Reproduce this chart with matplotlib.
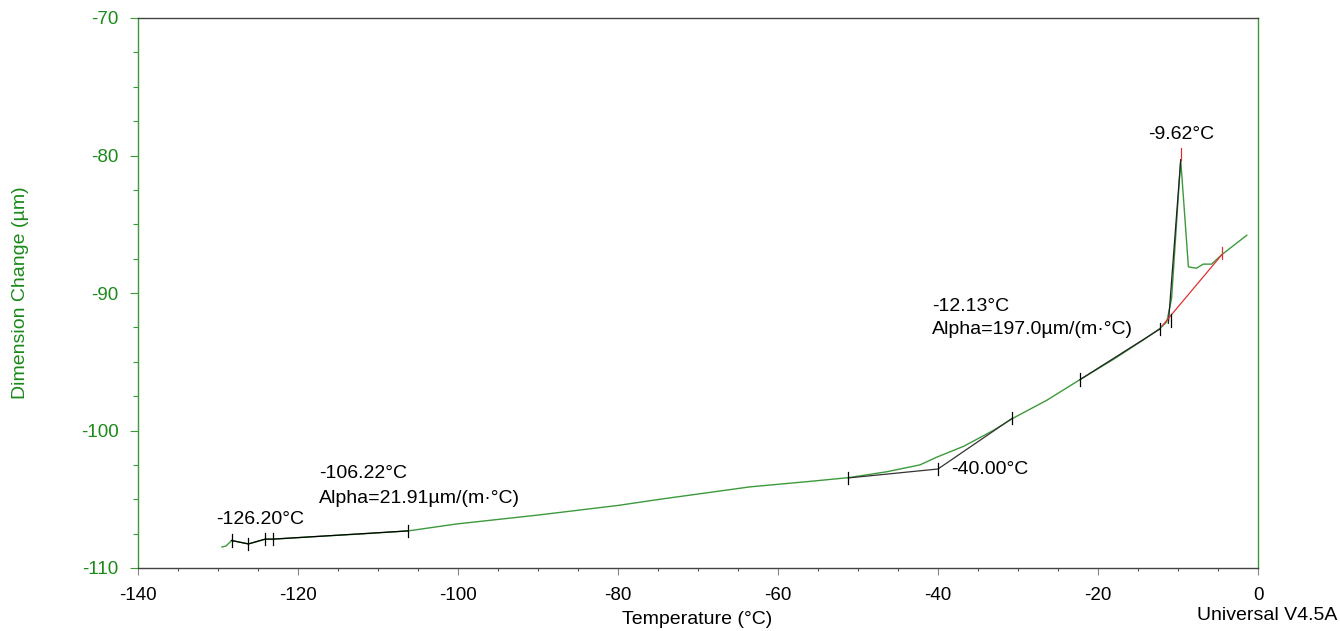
import matplotlib
matplotlib.use("Agg")
import matplotlib.pyplot as plt
from matplotlib.ticker import MultipleLocator

plt.rcParams['font.family'] = ['Liberation Sans', 'DejaVu Sans']
plt.rcParams['axes.unicode_minus'] = False

# Main measured curve (temperature, dimension change)
temp = [-129.5, -129.0, -128.3, -126.2, -124.1, -123.1, -118.0, -112.0, -106.2,
        -100.2, -90.0, -80.0, -74.75, -63.5, -56.0, -51.2, -46.4, -42.25, -40.2,
        -36.8, -33.1, -30.6, -26.4, -22.25, -18.0, -14.3, -12.25, -11.4, -10.8,
        -9.66, -8.7, -7.7, -6.85, -5.8, -4.5, -1.4]
dim = [-108.47, -108.4, -108.0, -108.25, -107.9, -107.9, -107.72, -107.52, -107.3,
       -106.8, -106.15, -105.45, -105.0, -104.1, -103.7, -103.43, -103.0, -102.5, -101.95,
       -101.15, -100.0, -99.1, -97.8, -96.3, -94.8, -93.4, -92.57, -92.1, -90.4,
       -80.33, -88.1, -88.2, -87.9, -87.9, -87.2, -85.8]

# Black analysis lines
low_x = [-128.3, -126.2, -124.1, -123.1, -106.2]
low_y = [-108.0, -108.25, -107.9, -107.9, -107.3]
mid_x = [-51.2, -40.0, -30.7]
mid_y = [-103.45, -102.8, -99.1]
up_x = [-22.25, -12.2]
up_y = [-96.3, -92.6]
steep_x = [-11.2, -9.66]
steep_y = [-92.2, -80.3]

# Tick marks on analysis lines
black_tick_x = [-128.3, -126.2, -124.1, -123.1, -106.2, -51.2, -40.0, -30.7, -22.25, -12.2, -10.9]
black_tick_y = [-108.0, -108.25, -107.9, -107.9, -107.3, -103.45, -102.8, -99.1, -96.3, -92.6, -92.0]

# Red baseline extrapolation
red_x = [-12.0, -4.5]
red_y = [-92.4, -87.2]
red_tick_x = [-9.62, -4.5]
red_tick_y = [-79.9, -87.1]

green_line = '#3c9a3c'
green_text = '#1a8a1a'

fig = plt.figure(figsize=(13.4, 6.31), dpi=100)
ax = fig.add_axes([138/1340, 1-568/631, 1120/1340, 550/631])

ax.plot(temp, dim, color=green_line, lw=1.0, zorder=2)
ax.plot(low_x, low_y, color='black', lw=0.9, zorder=3)
ax.plot(mid_x, mid_y, color='#333333', lw=0.9, zorder=3)
ax.plot(up_x, up_y, color='#222222', lw=0.9, zorder=3)
ax.plot(steep_x, steep_y, color='#222222', lw=0.9, zorder=3)
ax.plot(red_x, red_y, color='#e03030', lw=0.9, zorder=3)
for tx, ty in zip(black_tick_x, black_tick_y):
    ax.plot([tx, tx], [ty - 0.45, ty + 0.45], color='black', lw=0.9, zorder=4)
for tx, ty in zip(red_tick_x, red_tick_y):
    ax.plot([tx, tx], [ty - 0.45, ty + 0.45], color='#e03030', lw=0.9, zorder=4)

ax.set_xlim(-140, 0)
ax.set_ylim(-110, -70)
ax.xaxis.set_major_locator(MultipleLocator(20))
ax.xaxis.set_minor_locator(MultipleLocator(5))
ax.yaxis.set_major_locator(MultipleLocator(10))
ax.yaxis.set_minor_locator(MultipleLocator(2.5))

ax.tick_params(axis='x', which='major', direction='out', length=5, width=0.8,
               color='#888888', labelsize=13.5, labelcolor='black', pad=8.5)
ax.tick_params(axis='x', which='minor', direction='out', length=2.5, width=0.8, color='#555555')
ax.tick_params(axis='y', which='major', direction='out', length=6, width=0.8,
               color=green_line, labelsize=13.5, labelcolor=green_text, pad=8)
ax.tick_params(axis='y', which='minor', direction='out', length=3.5, width=0.8, color=green_line)

for s in ['left', 'right']:
    ax.spines[s].set_color(green_line)
    ax.spines[s].set_linewidth(1.0)
for s in ['top', 'bottom']:
    ax.spines[s].set_color('#444444')
    ax.spines[s].set_linewidth(1.0)

ax.set_xlabel('Temperature (°C)', fontsize=14, color='black')
ax.xaxis.set_label_coords(0.499, -0.078)
ax.set_ylabel('Dimension Change (µm)', fontsize=14, color=green_text)
ax.yaxis.set_label_coords(-0.097, 0.5)

fs = 14
ax.text(-9.6, -78.45, '-9.62°C', fontsize=fs, ha='center', va='center')
ax.text(-40.75, -91.0, '-12.13°C', fontsize=fs, ha='left', va='center')
ax.text(-40.75, -92.65, 'Alpha=197.0µm/(m·°C)', fontsize=fs, ha='left', va='center')
ax.text(-38.4, -102.8, '-40.00°C', fontsize=fs, ha='left', va='center')
ax.text(-117.4, -103.16, '-106.22°C', fontsize=fs, ha='left', va='center')
ax.text(-117.4, -104.98, 'Alpha=21.91µm/(m·°C)', fontsize=fs, ha='left', va='center')
ax.text(-130.25, -106.44, '-126.20°C', fontsize=fs, ha='left', va='center')

fig.text(1337/1340, 1-615/631, 'Universal V4.5A', fontsize=14, ha='right', va='center')

fig.savefig('out.png', dpi=100)
